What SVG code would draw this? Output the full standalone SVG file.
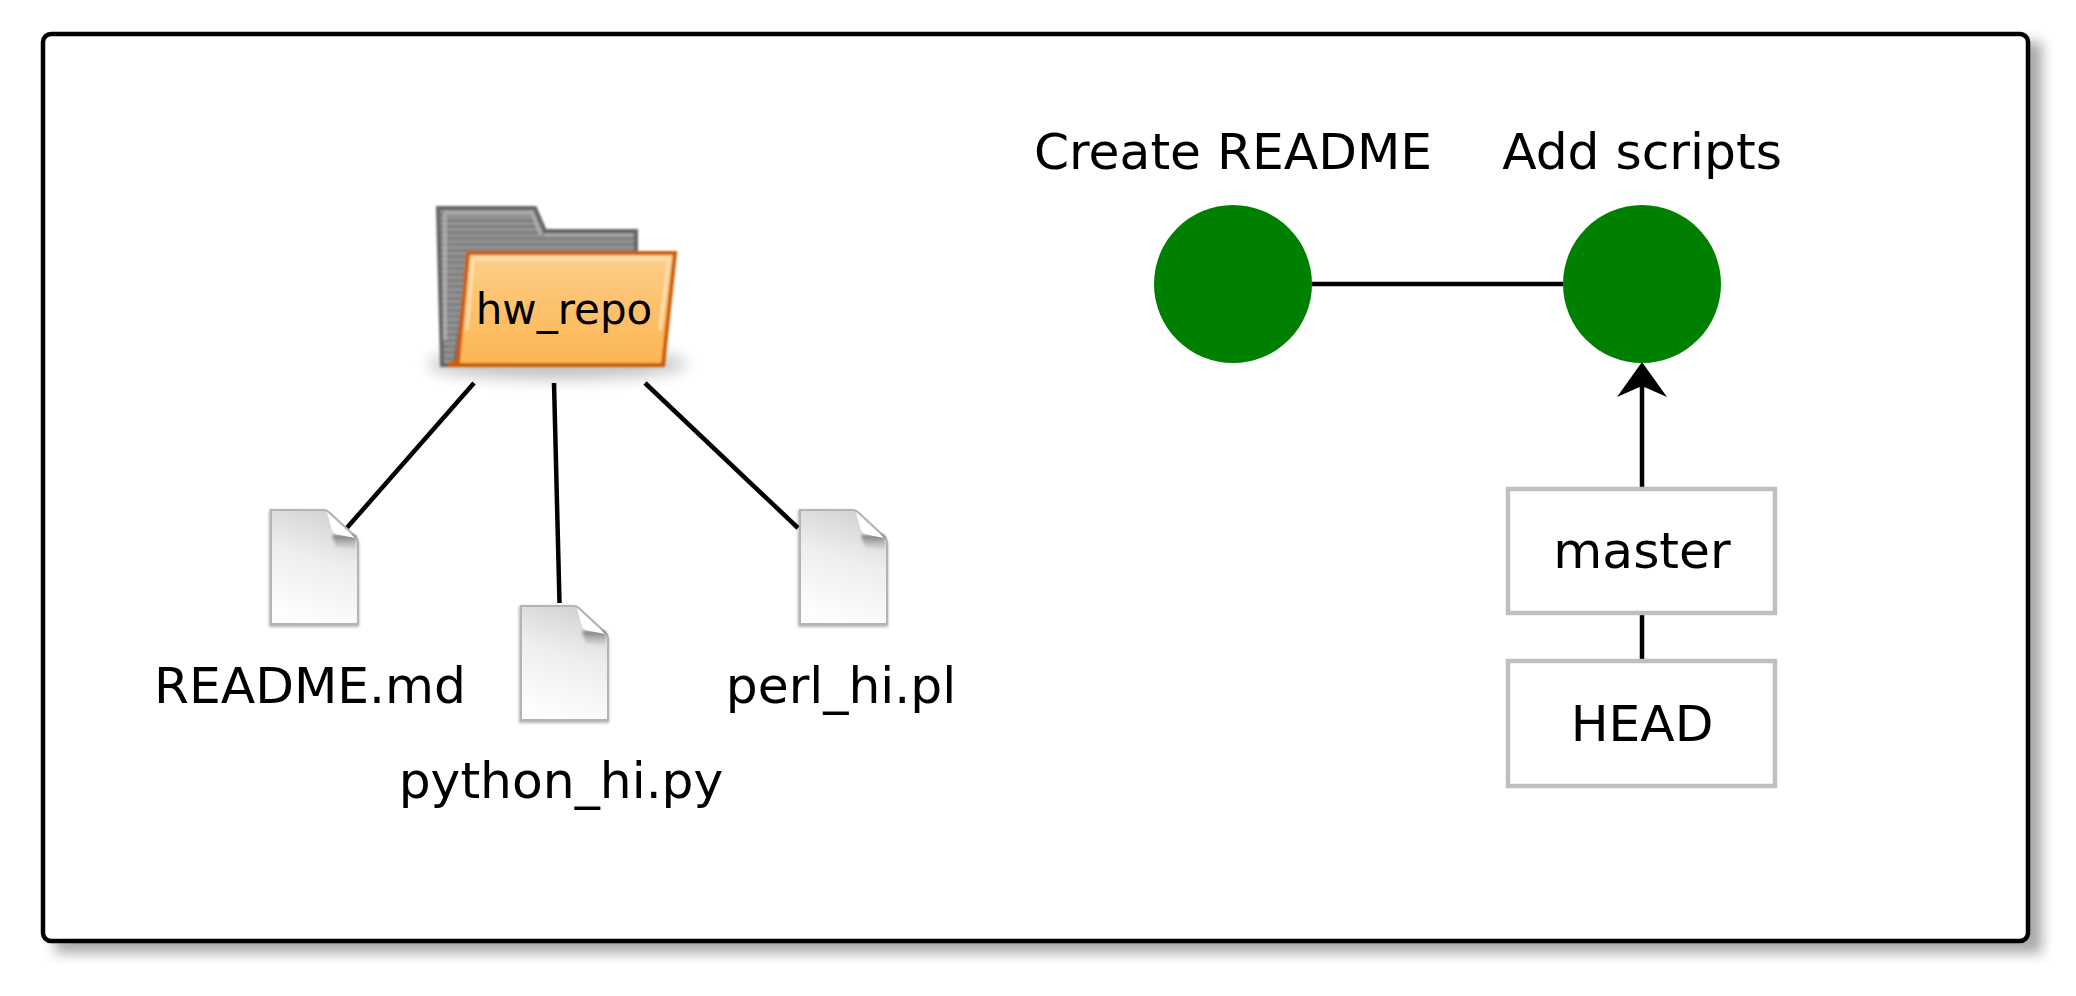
<svg xmlns="http://www.w3.org/2000/svg" width="2076" height="996" viewBox="0 0 2076 996">
<style>
text{font-family:"DejaVu Sans",sans-serif;fill:#000;text-anchor:middle}
.lbl{font-size:50.3px}
.link{fill:none;stroke:#000;stroke-width:4.5}
.box{fill:#fff;stroke:#bfbfbf;stroke-width:4.5}
.commit{fill:#008000}
.soft{filter:url(#b1)}
</style>
<defs>
<filter id="b7" x="-5%" y="-5%" width="110%" height="110%"><feGaussianBlur stdDeviation="6.5"/></filter>
<filter id="b6" x="-20%" y="-100%" width="140%" height="300%"><feGaussianBlur stdDeviation="8"/></filter>
<filter id="b2" x="-10%" y="-10%" width="120%" height="120%"><feGaussianBlur stdDeviation="1.6"/></filter>
<filter id="b1" x="-5%" y="-5%" width="110%" height="110%"><feGaussianBlur stdDeviation=".9"/></filter>
<linearGradient id="pageG" x1="0.7" y1="0" x2="0.45" y2="1"><stop offset="0" stop-color="#d2d2d2"/><stop offset=".45" stop-color="#eeeeee"/><stop offset="1" stop-color="#fefefe"/></linearGradient>
<linearGradient id="foldG" x1="0" y1="0" x2="0" y2="1"><stop offset="0" stop-color="#fdcf8a"/><stop offset=".45" stop-color="#fdc26f"/><stop offset="1" stop-color="#fdb552"/></linearGradient>
<linearGradient id="curlG" x1="0" y1="0" x2="0" y2="1"><stop offset="0" stop-color="#777"/><stop offset="1" stop-color="#aaa" stop-opacity="0"/></linearGradient>
<pattern id="stripes" width="6" height="6" patternUnits="userSpaceOnUse"><rect width="6" height="3" fill="#949494"/><rect y="3" width="6" height="3" fill="#7e7e7e"/></pattern>
<g id="doc">
<path d="M-1 1H54L89 33V118H-1Z" fill="#000" opacity=".3" filter="url(#b2)"/>
<path d="M1 1H54Q57 1 60 4L86 28Q88 30 88 34V115H1Z" fill="url(#pageG)" stroke="#b4b4b4" stroke-width="2"/>
<path d="M62 26H86V42L66 38Z" fill="url(#curlG)" filter="url(#b2)"/>
<path d="M57 3L85 29L70 26Q62 25 61 18Z" fill="#fff"/>
</g>
</defs>
<rect id="frame-shadow" x="55" y="42" width="1987" height="911" fill="#000" opacity=".34" filter="url(#b7)"/>
<g id="frame"><rect x="43" y="34" width="1985" height="907" rx="8" fill="#fff" stroke="#000" stroke-width="4.500"/></g>
<g id="connectors">
<line class="link" x1="474" y1="383" x2="345" y2="530"/>
<line class="link" x1="554" y1="383" x2="559.500" y2="603"/>
<line class="link" x1="645" y1="383" x2="798" y2="528"/>
<line class="link" x1="1312" y1="284" x2="1563" y2="284"/>
<line class="link" x1="1642" y1="489" x2="1642" y2="380"/>
<line class="link" x1="1642" y1="613" x2="1642" y2="661"/>
<path d="M1642 362L1667 397L1642 386L1617 397Z" fill="#000"/>
</g>
<g id="hw_repo">
<ellipse cx="557" cy="364" rx="130" ry="15" fill="#000" opacity=".24" filter="url(#b6)"/>
<g class="soft">
<path d="M438 208H535L545 231H636V258H470L455 365H442Z" fill="url(#stripes)" stroke="#666" stroke-width="4"/>
<path d="M445 213H532L541 235M445 213V340" fill="none" stroke="#b2b2b2" stroke-width="4" opacity=".8"/>
<path d="M545 235H632" fill="none" stroke="#a8a8a8" stroke-width="3"/>
<path d="M468 253H675L663 365H448L458 361Z" fill="url(#foldG)" stroke="#ce5c00" stroke-width="4"/>
<path d="M473 259H669L660 330M473 259L467 330" fill="none" stroke="#fee2b8" stroke-width="3.500" opacity=".85"/>
</g>
<text x="564" y="324" font-size="42">hw_repo</text>
</g>
<g id="readme"><use href="#doc" x="270" y="509"/><text class="lbl" x="310" y="703">README.md</text></g>
<g id="python_hi"><use href="#doc" x="520" y="605"/><text class="lbl" x="561" y="798">python_hi.py</text></g>
<g id="perl_hi"><use href="#doc" x="799" y="509"/><text class="lbl" x="841" y="703">perl_hi.pl</text></g>
<g id="commit1"><circle class="commit" cx="1233" cy="284" r="79"/><text class="lbl" x="1233" y="169">Create README</text></g>
<g id="commit2"><circle class="commit" cx="1642" cy="284" r="79"/><text class="lbl" x="1642" y="169">Add scripts</text></g>
<g id="master"><rect class="box" x="1508" y="489" width="267" height="124"/><text class="lbl" x="1642" y="568">master</text></g>
<g id="head"><rect class="box" x="1508" y="661" width="267" height="125"/><text class="lbl" x="1642" y="741">HEAD</text></g>
</svg>
